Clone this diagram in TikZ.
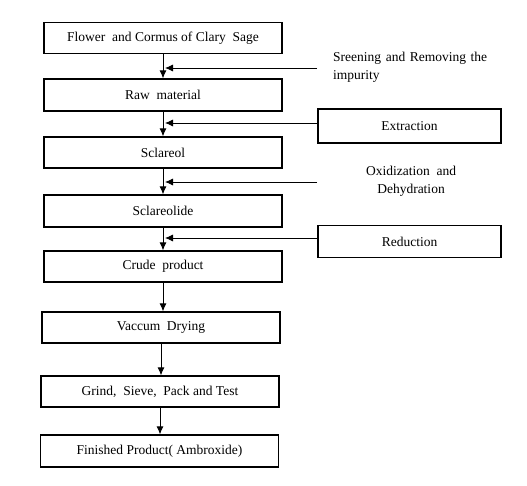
\documentclass[tikz,border=0pt]{standalone}
\usepackage{fontspec}
\setmainfont{Liberation Serif}
\usetikzlibrary{arrows.meta}
\begin{document}
\begin{tikzpicture}[x=1pt,y=-1pt,
  box/.style={draw, line width=1.3pt, minimum width=238pt, minimum height=31pt, inner sep=0pt, font=\fontsize{13.5}{16}\selectfont},
  sidebox/.style={draw, line width=1.3pt, minimum width=183pt, minimum height=32pt, inner sep=0pt, font=\fontsize{13.5}{16}\selectfont},
  lbl/.style={inner sep=0pt, font=\fontsize{13.5}{18}\selectfont},
  flow/.style={line width=0.9pt, -{Latex[length=8pt,width=7pt]}},
  side/.style={line width=0.8pt, -{Latex[length=8pt,width=7pt]}}]
\useasboundingbox (0,0) rectangle (527,485);
% main boxes
\node[box] (b1) at (163,38) {Flower\ \ and Cormus of Clary\ \ Sage};
\node[box, minimum height=32pt] (b2) at (163,95) {Raw\ \ material};
\node[box] (b3) at (163,152.5) {Sclareol};
\node[box, minimum height=32pt] (b4) at (163,211) {Sclareolide};
\node[box] (b5) at (163,266.5) {Crude\ \ product};
\node[box] (b6) at (161,327.5) {Vaccum\ \ Drying};
\node[box] (b7) at (160,391.5) {Grind,\ \ Sieve,\ \ Pack and Test};
\node[box, minimum height=32pt] (b8) at (159.5,451) {Finished Product( Ambroxide)};
% side boxes and labels
\node[sidebox, minimum height=34pt] (ext) at (409.5,126) {Extraction};
\node[sidebox] (red) at (409.5,241.5) {Reduction};
\node[lbl, anchor=north west, text width=154pt, align=left] (scr) at (333,52) {Sreening\hfill and\hfill Removing\hfill the\\impurity};
\node[lbl, align=center] (oxi) at (411,181) {Oxidization\ \ and\\Dehydration};
% main flow arrows
\draw[flow] (b1.south) -- (b1.south |- b2.north);
\draw[flow] (b2.south) -- (b2.south |- b3.north);
\draw[flow] (b3.south) -- (b3.south |- b4.north);
\draw[flow] (b4.south) -- (b4.south |- b5.north);
\draw[flow] (b5.south) -- (b5.south |- b6.north);
\draw[flow] (b6.south) -- (b6.south |- b7.north);
\draw[flow] (b7.south) -- (b7.south |- b8.north);
% side inputs
\coordinate (s1) at (317,68);
\coordinate (t1) at (165,68);
\coordinate (t2) at (165,123);
\coordinate (s3) at (317,182);
\coordinate (t3) at (165,182);
\coordinate (t4) at (165,238);
\draw[side] (s1) -- (t1);
\draw[side] (ext.west |- t2) -- (t2);
\draw[side] (s3) -- (t3);
\draw[side] (red.west |- t4) -- (t4);
\end{tikzpicture}
\end{document}
